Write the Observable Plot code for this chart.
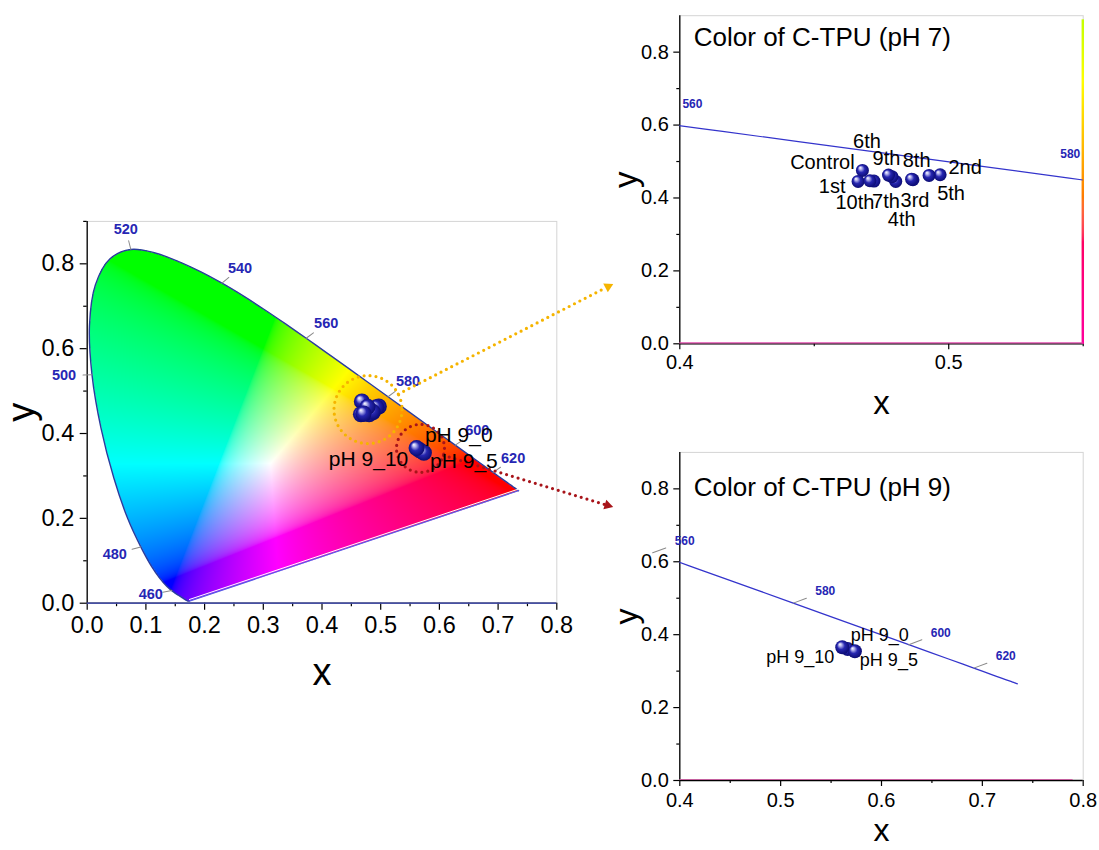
<!DOCTYPE html>
<html><head><meta charset="utf-8">
<script src="https://cdn.jsdelivr.net/npm/d3@7"></script>
<script src="https://cdn.jsdelivr.net/npm/@observablehq/plot@0.6"></script>
<style>
body{margin:0;background:#fff;font-family:"Liberation Sans",Arial,sans-serif;}
#wrap{position:relative;width:1099px;height:850px;overflow:hidden;background:#fff;}
</style></head><body>
<svg width="0" height="0" style="position:absolute"><defs>
<radialGradient id="ball" cx="0.5" cy="0.5" r="0.55" fx="0.32" fy="0.28">
<stop offset="0" stop-color="#ffffff"/>
<stop offset="0.2" stop-color="#b4b4ee"/>
<stop offset="0.5" stop-color="#2626b0"/>
<stop offset="1" stop-color="#07076a"/>
</radialGradient>
</defs></svg>
<div id="wrap"></div>
<script>
// ---------- data ----------
// CIE 1931 spectral locus (chromaticity of monochromatic light)
const wavelengths = [380,385,390,395,400,405,410,415,420,425,430,435,440,445,450,455,460,465,470,475,480,485,490,495,500,505,510,515,520,525,530,535,540,545,550,555,560,565,570,575,580,585,590,595,600,605,610,615,620,625,630,635,640,645,650,655,660,665,670,675,680,685,690,695,700];
const locusX = [0.1741,0.1740,0.1738,0.1736,0.1733,0.1730,0.1726,0.1721,0.1714,0.1703,0.1689,0.1669,0.1644,0.1611,0.1566,0.1510,0.1440,0.1355,0.1241,0.1096,0.0913,0.0687,0.0454,0.0235,0.0082,0.0039,0.0139,0.0389,0.0743,0.1142,0.1547,0.1929,0.2296,0.2658,0.3016,0.3373,0.3731,0.4087,0.4441,0.4788,0.5125,0.5448,0.5752,0.6029,0.6270,0.6482,0.6658,0.6801,0.6915,0.7006,0.7079,0.7140,0.7190,0.7230,0.7260,0.7283,0.7300,0.7311,0.7320,0.7327,0.7334,0.7340,0.7344,0.7346,0.7347];
const locusY = [0.0050,0.0050,0.0049,0.0049,0.0048,0.0048,0.0048,0.0048,0.0051,0.0058,0.0069,0.0086,0.0109,0.0138,0.0177,0.0227,0.0297,0.0399,0.0578,0.0868,0.1327,0.2007,0.2950,0.4127,0.5384,0.6548,0.7502,0.8120,0.8338,0.8262,0.8059,0.7816,0.7543,0.7243,0.6923,0.6589,0.6245,0.5896,0.5547,0.5202,0.4866,0.4544,0.4242,0.3965,0.3725,0.3514,0.3340,0.3197,0.3083,0.2993,0.2920,0.2859,0.2809,0.2770,0.2740,0.2717,0.2700,0.2689,0.2680,0.2673,0.2666,0.2660,0.2656,0.2654,0.2653];

// C-TPU colour coordinates, pH 7
const ph7Labels = ["Control","1st","2nd","3rd","4th","5th","6th","7th","8th","9th","10th"];
const ph7X = [0.4679,0.4663,0.4968,0.4867,0.4803,0.4927,0.4722,0.4789,0.4862,0.4776,0.4707];
const ph7Y = [0.4756,0.4454,0.4637,0.4500,0.4454,0.4618,0.4464,0.4585,0.4515,0.4629,0.4472];
// C-TPU colour coordinates, pH 9
const ph9Labels = ["pH 9_0","pH 9_5","pH 9_10"];
const ph9X = [0.5665,0.5736,0.5611];
const ph9Y = [0.3605,0.3546,0.3656];

// axis ticks
const leftXTicks = [0,0.1,0.2,0.3,0.4,0.5,0.6,0.7,0.8];
const leftXMinor = [0.05,0.15,0.25,0.35,0.45,0.55,0.65,0.75];
const yTicks = [0,0.2,0.4,0.6,0.8];
const yMinorLeft = [0.1,0.3,0.5,0.7,0.9];
const yMinor = [0.1,0.3,0.5,0.7];
const topXTicks = [0.4,0.5];
const topXMinor = [0.45,0.55];
const botXTicks = [0.4,0.5,0.6,0.7,0.8];
const botXMinor = [0.45,0.55,0.65,0.75];

// wavelength marks shown on each panel
const leftWl = [460,480,500,520,540,560,580,600,620];
const botWl = [560,580,600,620];
const topWlText = ["560","580"];
const topWlX = [0.4047,0.5452];
const topWlY = [0.6565,0.5193];

// titles
const titles = ["Color of C-TPU (pH 7)","Color of C-TPU (pH 9)"];

// ---------- helpers ----------
const FONT = "Liberation Sans, Arial, Helvetica, sans-serif";
const WLBLUE = "#2626b4";
const locus = wavelengths.map((w,i)=>({w, x: locusX[i], y: locusY[i]}));
const ph7 = ph7Labels.map((label,i)=>({label, x: ph7X[i], y: ph7Y[i]}));
const ph9 = ph9Labels.map((label,i)=>({label, x: ph9X[i], y: ph9Y[i]}));
const wlPoint = w => locus.find(d => d.w === w);

// smooth gamut mask (same curve as the drawn outline) for the fill
const S = 2000;
const maskPath = new Path2D(d3.line().x(d => d.x*S).y(d => d.y*S).curve(d3.curveCatmullRom)(locus) + "Z");
const maskCtx = document.createElement("canvas").getContext("2d");
const inGamut = (x, y) => maskCtx.isPointInPath(maskPath, x*S, y*S);

function gam(c){ return c <= 0.0031308 ? 12.92*c : 1.055*Math.pow(c,1/2.4)-0.055; }
function chromaColor(x, y) {
  const yy = Math.max(y, 0.004);
  const X = x/yy, Z = (1-x-yy)/yy;
  let r = 3.2406*X - 1.5372 - 0.4986*Z;
  let g = -0.9689*X + 1.8758 + 0.0415*Z;
  let b = 0.0557*X - 0.2040 + 1.0570*Z;
  r = Math.max(r,0); g = Math.max(g,0); b = Math.max(b,0);
  const m = Math.max(r,g,b) || 1;
  return `rgb(${Math.round(255*gam(r/m))},${Math.round(255*gam(g/m))},${Math.round(255*gam(b/m))})`;
}
const tickShape = {draw(ctx, l){ ctx.moveTo(0,0); ctx.lineTo(0,-l); }};
const angleOf = (dx, dy) => Math.atan2(dx, -dy) * 180 / Math.PI;
const fmt = d3.format(".1f");
const wrap = document.getElementById("wrap");

function panel(cfg, marks) {
  const svg = Plot.plot({
    width: cfg.W, height: cfg.H,
    marginLeft: cfg.ml, marginRight: cfg.mr, marginTop: cfg.mt, marginBottom: cfg.mb,
    x: {domain: cfg.xd}, y: {domain: cfg.yd},
    color: {type: "identity"},
    style: {fontFamily: FONT, fontSize: cfg.fs + "px", background: "transparent", overflow: "visible", color: "#000"},
    marks
  });
  svg.style.position = "absolute";
  svg.style.left = cfg.left + "px";
  svg.style.top = cfg.top + "px";
  svg.style.maxWidth = "none";
  wrap.appendChild(svg);
  return svg;
}
function axes(cfg, xt, xm, yt, yminor) {
  return [
    Plot.frame({stroke: "#d4d4d4"}),
    Plot.ruleX([cfg.xd[0]], {stroke: "#000", strokeWidth: 1.3}),
    Plot.ruleY([0], {stroke: "#000", strokeWidth: 1.3}),
    Plot.axisX(xt, {tickSize: cfg.tick, tickFormat: () => "", label: null, strokeWidth: 1.2}),
    Plot.axisX(xm, {tickSize: cfg.tick/2, tickFormat: () => "", label: null, strokeWidth: 1.2}),
    Plot.axisY(yt, {tickSize: cfg.tick, tickFormat: () => "", label: null, strokeWidth: 1.2}),
    Plot.axisY(yminor, {tickSize: cfg.tick/2, tickFormat: () => "", label: null, strokeWidth: 1.2}),
    // tick labels
    Plot.text(xt, {x: d => d, frameAnchor: "bottom", lineAnchor: "middle", dy: cfg.xlab, text: d => fmt(d), fontSize: cfg.fs, fill: "#000"}),
    Plot.text(yt, {y: d => d, frameAnchor: "left", lineAnchor: "middle", dx: cfg.ylab, textAnchor: "end", text: d => fmt(d), fontSize: cfg.fs, fill: "#000"}),
    // axis titles
    Plot.text(["x"], {frameAnchor: "bottom", lineAnchor: "middle", textAnchor: "middle", dy: cfg.xdy, text: d => d, fontSize: cfg.tfs}),
    Plot.text(["y"], {frameAnchor: "left", lineAnchor: "middle", textAnchor: "middle", dx: cfg.ydx, rotate: -90, text: d => d, fontSize: cfg.tfs})
  ];
}

// ---------- left: full CIE diagram ----------
const L = {left: 0, top: 0, W: 640, H: 700, ml: 86.7, mr: 83.7, mt: 220.9, mb: 97.3,
  xd: [0, 0.8], yd: [0, 0.9], fs: 23.5, tick: 7, xlab: 22, ylab: -13, tfs: 38, xdy: 70, ydx: -65};
const lpx = d3.scaleLinear(L.xd, [L.ml, L.W - L.mr]);
const lpy = d3.scaleLinear(L.yd, [L.H - L.mb, L.mt]);

const leftWlOff = {460:[-21,4], 480:[-26,7], 500:[-28,1], 520:[-5,-20], 540:[18,-15], 560:[20,-15], 580:[20,-15], 600:[22,-15], 620:[20,-14]};
const ph9LeftOff = {"pH 9_0":[39,-15], "pH 9_5":[40,8], "pH 9_10":[-48,11]};

const callouts = [
  {cx: 0.4784, cy: 0.4564, r: 34, tx: 0.898, ty: 0.754, color: "#f5b400"},
  {cx: 0.5678, cy: 0.365, r: 24, tx: 0.898, ty: 0.2257, color: "#a8141a"}
];
function calloutMarks(c) {
  const vx = lpx(c.tx) - lpx(c.cx), vy = lpy(c.ty) - lpy(c.cy);
  const len = Math.hypot(vx, vy), ux = vx/len, uy = vy/len;
  const hx = lpx.invert(lpx(c.tx) - 7*ux), hy = lpy.invert(lpy(c.ty) - 7*uy);
  return [
    Plot.dot([c], {x: "cx", y: "cy", r: c.r, fill: "none", stroke: c.color, strokeWidth: 3.2, strokeDasharray: "0 6", strokeLinecap: "round"}),
    Plot.arrow([c], {x1: "cx", y1: "cy", x2: "tx", y2: "ty", insetStart: c.r, insetEnd: 9, headLength: 0, stroke: c.color, strokeWidth: 3.2, strokeDasharray: "0 6", strokeLinecap: "round"}),
    Plot.dot([{x: hx, y: hy}], {x: "x", y: "y", symbol: "triangle2", r: 4.8, fill: c.color, rotate: angleOf(ux, uy)})
  ];
}

panel(L, [
  Plot.raster({x1: 0, x2: 0.8, y1: 0, y2: 0.9, width: 470, height: 382,
    fill: (x, y) => inGamut(x, y) ? chromaColor(x, y) : null}),
  ...axes(L, leftXTicks, leftXMinor, yTicks, yMinorLeft),
  Plot.ruleY([0], {stroke: "#4c58c8", strokeWidth: 1.2}),
  Plot.line(locus, {x: "x", y: "y", stroke: "#2b3c9e", strokeWidth: 1.4, curve: "catmull-rom"}),
  Plot.line([locus[locus.length-1], locus[0]], {x: "x", y: "y", stroke: "#5a5ae6", strokeWidth: 1.3}),
  Plot.line([locus[locus.length-1], locus[0]], {x: "x", y: "y", stroke: "#ffffff", strokeWidth: 1, dy: -1.6}),
  ...leftWl.map(w => {
    const p = wlPoint(w), o = leftWlOff[w];
    return Plot.vector([p], {x: "x", y: "y", length: 9, rotate: angleOf(o[0], o[1]), anchor: "start", shape: tickShape, stroke: "#8a8a8a", strokeWidth: 1});
  }),
  ...leftWl.map(w => {
    const p = wlPoint(w), o = leftWlOff[w];
    return Plot.text([p], {x: "x", y: "y", text: d => String(d.w), dx: o[0], dy: o[1], fontSize: 14.5, fontWeight: "bold", fill: WLBLUE});
  }),
  ...callouts.flatMap(calloutMarks),
  Plot.dot(ph7, {x: "x", y: "y", r: 8, fill: "url(#ball)"}),
  Plot.dot(ph9, {x: "x", y: "y", r: 8, fill: "url(#ball)"}),
  ...ph9.map(d => Plot.text([d], {x: "x", y: "y", text: "label", dx: ph9LeftOff[d.label][0], dy: ph9LeftOff[d.label][1], fontSize: 21, fill: "#000"}))
]);

// ---------- top right: pH 7 ----------
const T = {left: 600, top: 0, W: 499, H: 420, ml: 79.3, mr: 16.3, mt: 15.2, mb: 76.7,
  xd: [0.4, 0.55], yd: [0, 0.9], fs: 20, tick: 6, xlab: 19, ylab: -11, tfs: 33, xdy: 60, ydx: -53};
const ph7Off = {"Control":[-40,-8], "1st":[-26,5], "10th":[-15,22], "6th":[-7,-39], "9th":[-2,-16], "7th":[-6,25], "4th":[6,38], "3rd":[2,21], "8th":[5,-19], "5th":[22,18], "2nd":[25,-7]};
const topWl = topWlText.map((t,i)=>({t, x: topWlX[i], y: topWlY[i]}));

panel(T, [
  ...axes(T, topXTicks, topXMinor, yTicks, yMinor),
  Plot.raster({x1: 0.5494, x2: 0.5503, y1: 0, y2: 0.89, width: 1, height: 330,
    fill: (x, y) => chromaColor(0.55, y)}),
  Plot.ruleY([0], {stroke: "#e24cae", strokeWidth: 1.3, dy: -1}),
  Plot.line(locus, {x: "x", y: "y", stroke: "#3434cc", strokeWidth: 1.2, clip: true, curve: "catmull-rom"}),
  Plot.text(topWl, {x: "x", y: "y", text: "t", fontSize: 12, fontWeight: "bold", fill: WLBLUE}),
  Plot.text([titles[0]], {frameAnchor: "top-left", lineAnchor: "middle", dx: 14, dy: 21.5, text: d => d, textAnchor: "start", fontSize: 26}),
  Plot.dot(ph7, {x: "x", y: "y", r: 6.5, fill: "url(#ball)"}),
  ...ph7.map(d => Plot.text([d], {x: "x", y: "y", text: "label", dx: ph7Off[d.label][0], dy: ph7Off[d.label][1], fontSize: 20, fill: "#000"}))
]);

// ---------- bottom right: pH 9 ----------
const B = {left: 600, top: 430, W: 499, H: 420, ml: 79.3, mr: 16.3, mt: 21.9, mb: 70,
  xd: [0.4, 0.8], yd: [0, 0.9], fs: 20, tick: 6, xlab: 20, ylab: -11, tfs: 32, xdy: 50, ydx: -53};
const ph9BotOff = {"pH 9_0":[32,-14], "pH 9_5":[34,9], "pH 9_10":[-42,10]};
const botWlOff = [32, -12];

panel(B, [
  ...axes(B, botXTicks, botXMinor, yTicks, yMinor),
  Plot.ruleY([0], {x1: 0.4, x2: 0.79, stroke: "#c4609e", strokeWidth: 1.2, dy: -1}),
  Plot.line(locus.filter(d => d.w >= 555), {x: "x", y: "y", stroke: "#3434cc", strokeWidth: 1.3, clip: true, curve: "catmull-rom"}),
  Plot.vector(botWl.map(wlPoint), {x: "x", y: "y", length: 14, rotate: angleOf(botWlOff[0], botWlOff[1]), anchor: "start", shape: tickShape, stroke: "#8a8a8a", strokeWidth: 1}),
  Plot.text(botWl.map(wlPoint), {x: "x", y: "y", text: d => String(d.w), dx: botWlOff[0], dy: botWlOff[1], fontSize: 12, fontWeight: "bold", fill: WLBLUE}),
  Plot.text([titles[1]], {frameAnchor: "top-left", lineAnchor: "middle", dx: 14, dy: 34.8, text: d => d, textAnchor: "start", fontSize: 26}),
  Plot.dot(ph9, {x: "x", y: "y", r: 7, fill: "url(#ball)"}),
  ...ph9.map(d => Plot.text([d], {x: "x", y: "y", text: "label", dx: ph9BotOff[d.label][0], dy: ph9BotOff[d.label][1], fontSize: 18, fill: "#000"}))
]);
</script>
</body></html>
